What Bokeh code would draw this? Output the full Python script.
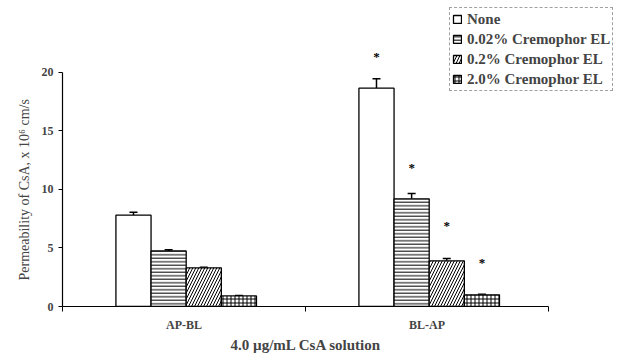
from bokeh.plotting import figure
from bokeh.models import (ColumnDataSource, Range1d, FixedTicker, Whisker, TeeHead,
                          Legend, LegendItem, Title)
from bokeh.transform import dodge
from bokeh.core.properties import value
from bokeh.embed import file_html
from bokeh.resources import INLINE

groups = ["AP-BL", "BL-AP"]
series = ["None", "0.02% Cremophor EL", "0.2% Cremophor EL", "2.0% Cremophor EL"]
none_vals = [7.8, 18.65]
c002_vals = [4.75, 9.2]
c02_vals = [3.3, 3.9]
c20_vals = [0.9, 1.0]
none_err = [0.25, 0.8]
c002_err = [0.1, 0.45]
c02_err = [0.05, 0.2]
c20_err = [0.05, 0.05]
# significance stars (BL-AP only)
star_y = [21.4, 11.9, 6.9, 3.8]
star_text = ["*", "*", "*", "*"]

y_ticks = [0, 5, 10, 15, 20]
y_label = "Permeability of CsA, x 10\u2076 cm/s"
x_label = "4.0 \u00b5g/mL CsA solution"

FONT = "Liberation Serif"

p = figure(width=622, height=354, output_backend="svg", toolbar_location=None,
           x_range=Range1d(0, 2.288), y_range=Range1d(0, 25.8),
           min_border_left=62, min_border_right=4, min_border_top=4, min_border_bottom=48)
p.outline_line_color = None
p.grid.grid_line_color = None
p.background_fill_color = "white"

bar_w = 0.1446
shift = 0.009
offsets = [shift + m * bar_w for m in (-1.5, -0.5, 0.5, 1.5)]
vals = [none_vals, c002_vals, c02_vals, c20_vals]
errs = [none_err, c002_err, c02_err, c20_err]
hatches = [None, "horizontal_line", "right_diagonal_line", "cross"]
hscales = [1, 3.5, 6, 4]

xc = [i + 0.5 for i in range(len(groups))]
items = []
for k in range(4):
    src = ColumnDataSource(dict(x=xc, top=vals[k],
                                upper=[v + e for v, e in zip(vals[k], errs[k])]))
    kw = {}
    if hatches[k]:
        kw = dict(hatch_pattern=hatches[k], hatch_scale=hscales[k], hatch_color="black",
                  hatch_weight=1)
    r = p.vbar(x=dodge("x", offsets[k], range=p.x_range), top="top", width=bar_w,
               source=src, fill_color="white", line_color="black", line_width=1.3, **kw)
    w = Whisker(base=dodge("x", offsets[k], range=p.x_range), upper="upper", lower="top",
                source=src, line_color="black", line_width=1.5,
                upper_head=TeeHead(size=8, line_color="black", line_width=1.5),
                lower_head=None)
    p.add_layout(w)
    items.append(LegendItem(label=series[k], renderers=[r]))

# stars above BL-AP bars
star_src = ColumnDataSource(dict(x=[1.5 + o for o in offsets], y=star_y, t=star_text))
p.text(x="x", y="y", text="t", source=star_src, text_align="center",
       text_baseline="middle", text_font=value(FONT), text_font_style="bold",
       text_font_size="13px", text_color="black")

# axes
p.yaxis.bounds = (0, 20)
p.yaxis.ticker = FixedTicker(ticks=y_ticks, minor_ticks=[])
p.yaxis.major_tick_in = 0
p.yaxis.major_tick_out = 4
p.yaxis.major_label_standoff = 5
p.yaxis.major_label_text_font = FONT
p.yaxis.major_label_text_font_size = "12px"
p.yaxis.major_label_text_font_style = "bold"

p.xaxis.bounds = (0, len(groups))
p.xaxis.ticker = FixedTicker(ticks=xc, minor_ticks=list(range(len(groups) + 1)))
p.xaxis.major_label_overrides = {x: g for x, g in zip(xc, groups)}
p.xaxis.major_tick_line_color = None
p.xaxis.major_tick_out = 0
p.xaxis.major_tick_in = 0
p.xaxis.minor_tick_in = 0
p.xaxis.minor_tick_out = 5
p.xaxis.major_label_standoff = 6
p.xaxis.major_label_text_font = FONT
p.xaxis.major_label_text_font_size = "12px"
p.xaxis.major_label_text_font_style = "bold"
for ax in (p.xaxis, p.yaxis):
    ax.axis_line_color = "black"
    ax.axis_line_width = 1.2

# axis titles positioned like the original
p.add_layout(Title(text=x_label, align="left", offset=168, vertical_align="middle",
                   text_font=FONT, text_font_size="15px", text_font_style="bold",
                   standoff=2), "below")
p.add_layout(Title(text=y_label, align="left", offset=26, text_font=FONT,
                   text_font_size="14px", text_font_style="normal", standoff=14), "left")

legend = Legend(items=items, location=(387, 215), orientation="vertical",
                label_text_font=FONT, label_text_font_style="bold",
                label_text_font_size="15px", glyph_width=10, glyph_height=10,
                label_height=18, spacing=2, padding=2, label_standoff=5, margin=0,
                border_line_color="#444", border_line_dash="2 1", border_line_width=1,
                background_fill_alpha=1)
p.add_layout(legend, "center")

open("out.html", "w").write(file_html(p, INLINE))
